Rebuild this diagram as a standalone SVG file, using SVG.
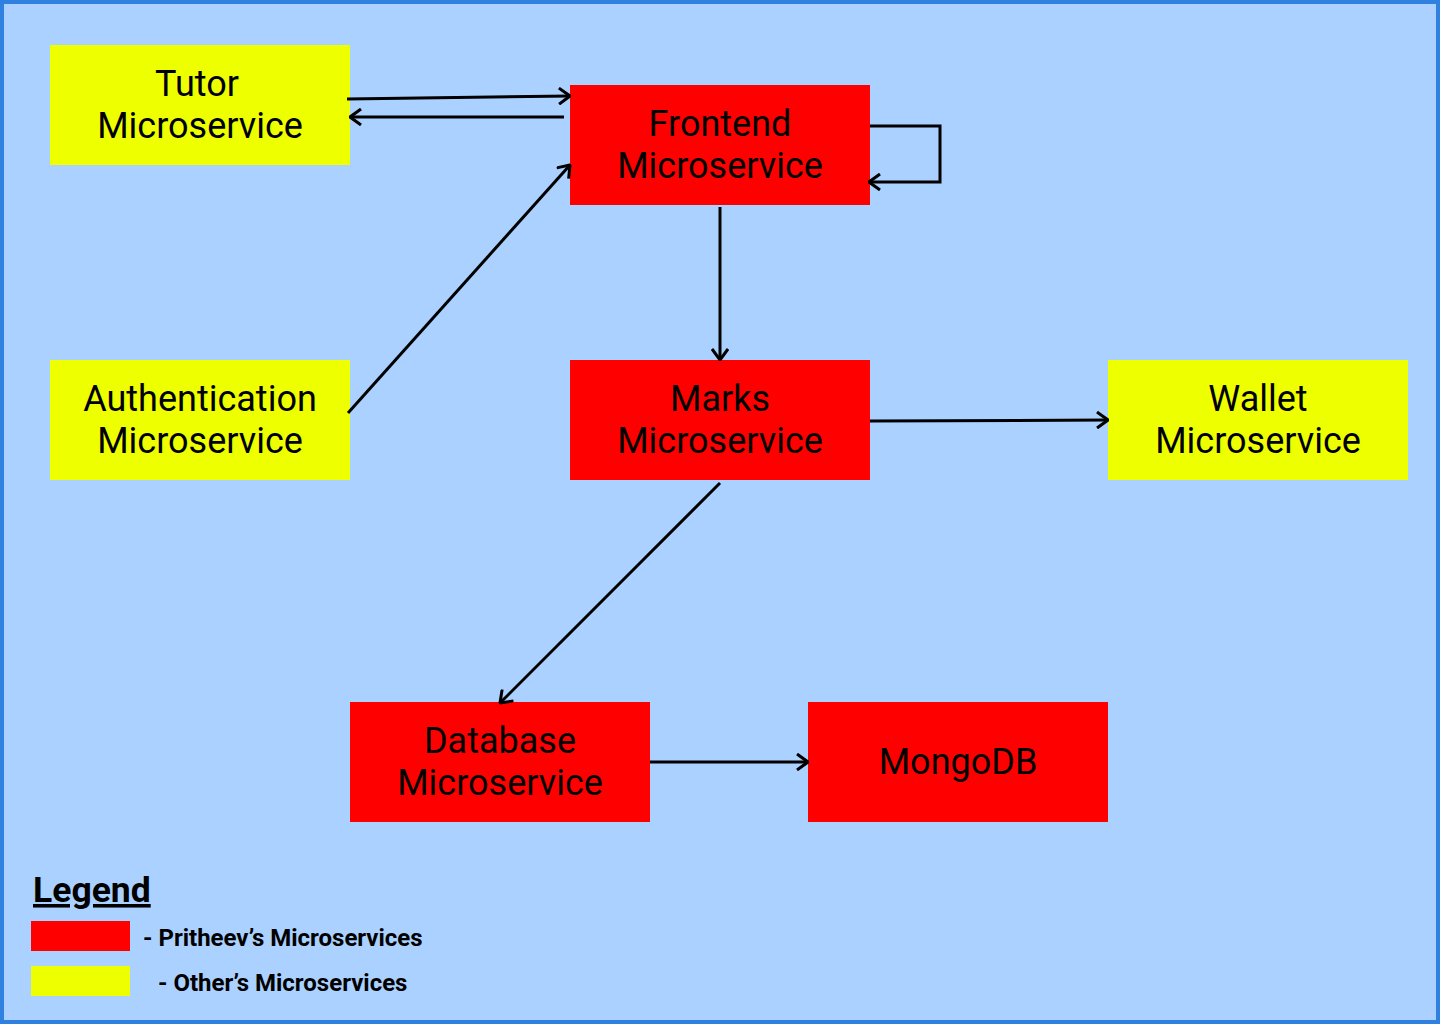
<svg xmlns="http://www.w3.org/2000/svg" width="1440" height="1024" viewBox="0 0 1440 1024">
<style>
.node text{font-family:Roboto,"Liberation Sans",sans-serif;font-size:36px;fill:#000;text-anchor:middle}
.red{fill:#ff0000}
.yel{fill:#eeff00}
.conn path,.conn line,.conn polyline{stroke:#000;stroke-width:3;fill:none;marker-end:url(#arr)}
.leg{font-family:Roboto,"Liberation Sans",sans-serif;font-weight:bold;fill:#000}
</style>
<defs>
<marker id="arr" viewBox="0 0 14 18" refX="13" refY="9" markerWidth="14" markerHeight="18" markerUnits="userSpaceOnUse" orient="auto">
<path d="M2,1 L13,9 L2,17" fill="none" stroke="#000" stroke-width="3"/>
</marker>
</defs>
<rect x="2" y="2" width="1436" height="1020" fill="#aad1ff" stroke="#2f80e0" stroke-width="4"/>
<g id="tutor" class="node"><rect class="yel" x="50" y="45" width="300" height="120"/><text x="197" y="96">Tutor</text><text x="200" y="138">Microservice</text></g>
<g id="frontend" class="node"><rect class="red" x="570" y="85" width="300" height="120"/><text x="720" y="136">Frontend</text><text x="720" y="178">Microservice</text></g>
<g id="auth" class="node"><rect class="yel" x="50" y="360" width="300" height="120"/><text x="200" y="411">Authentication</text><text x="200" y="453">Microservice</text></g>
<g id="marks" class="node"><rect class="red" x="570" y="360" width="300" height="120"/><text x="720" y="411">Marks</text><text x="720" y="453">Microservice</text></g>
<g id="wallet" class="node"><rect class="yel" x="1108" y="360" width="300" height="120"/><text x="1258" y="411">Wallet</text><text x="1258" y="453">Microservice</text></g>
<g id="database" class="node"><rect class="red" x="350" y="702" width="300" height="120"/><text x="500" y="753">Database</text><text x="500" y="795">Microservice</text></g>
<g id="mongodb" class="node"><rect class="red" x="808" y="702" width="300" height="120"/><text x="958" y="774">MongoDB</text></g>
<g id="connectors" class="conn">
<line x1="347" y1="99" x2="570" y2="96"/>
<line x1="564" y1="117" x2="350" y2="117"/>
<line x1="348" y1="413" x2="570" y2="165"/>
<polyline points="870,126 940,126 940,182 869,182"/>
<line x1="720" y1="207" x2="720" y2="360"/>
<line x1="870" y1="421" x2="1108" y2="420"/>
<line x1="720" y1="483" x2="500" y2="703"/>
<line x1="650" y1="762" x2="808" y2="762"/>
</g>
<g id="legend">
<text class="leg" x="33" y="902" font-size="35.5" text-decoration="underline">Legend</text>
<rect x="31" y="921" width="99" height="30" fill="#ff0000"/>
<rect x="31" y="966" width="99" height="30" fill="#eeff00"/>
<text class="leg" x="143" y="946" font-size="24">- Pritheev’s Microservices</text>
<text class="leg" x="158" y="991" font-size="24">- Other’s Microservices</text>
</g>
</svg>
